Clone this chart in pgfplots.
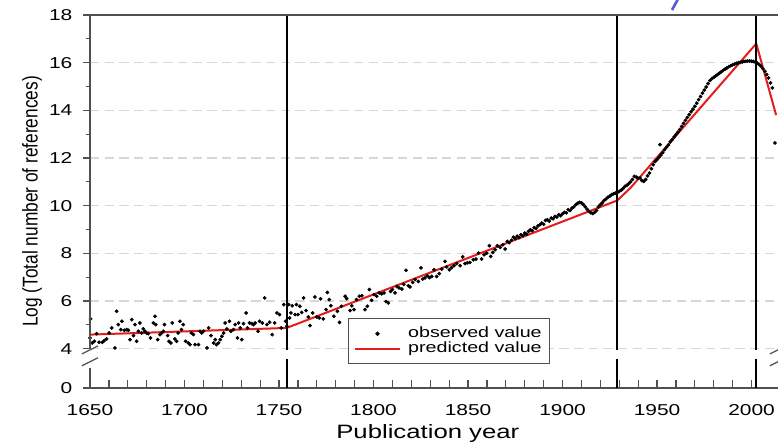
\documentclass[border=0pt]{standalone}
\usepackage{fontspec}
\setmainfont{Liberation Sans}[FakeStretch=1.33]
\newfontfamily\ylabfont{Liberation Sans}
\usepackage{pgfplots}
\pgfplotsset{compat=1.18}
\definecolor{axgray}{RGB}{80,80,80}
\definecolor{predred}{RGB}{228,28,28}
\definecolor{gridgray}{RGB}{215,215,215}
\definecolor{markblue}{RGB}{90,90,225}
\begin{document}
\begin{tikzpicture}
\begin{axis}[
  name=ax,
  scale only axis,
  width=516pt, height=279.75pt,
  xmin=1650, xmax=2014,
  ymin=2.35, ymax=18,
  axis lines*=left,
  x axis line style={draw=axgray, line width=1.3pt},
  y axis line style={draw=none},
  xtick={1650,1700,...,2000},
  minor x tick num=4,
  ytick={2.35,4,6,8,10,12,14,16,18},
  yticklabels={0,4,6,8,10,12,14,16,18},
  minor ytick={5,7,9,11,13,15,17},
  xtick align=inside,
  ytick align=outside,
  major tick length=5.25pt,
  minor tick length=3pt,
  x tick style={axgray, line width=0.9pt},
  y tick style={axgray, line width=0.9pt},
  major x tick style={/pgfplots/major tick length=6pt},
  minor x tick style={/pgfplots/minor tick length=6pt},
  ymajorgrids,
  major grid style={gridgray, line width=0.8pt, dash pattern=on 7pt off 4pt},
  /pgf/number format/assume math mode=true,
  tick label style={font=\fontsize{11.8}{13}\selectfont, text=black},
  yticklabel style={xshift=-4.5pt},
  xticklabel style={/pgf/number format/1000 sep={}, yshift=-8.6pt},
  xlabel={Publication year},
  xlabel style={at={(axis description cs:0.491,0)}, anchor=center, yshift=-34pt, font=\fontsize{14.5}{16}\selectfont},
  ylabel={\scalebox{0.81}[1]{\ylabfont\fontsize{16}{19}\selectfont Log (Total number of references)}},
  ylabel style={at={([xshift=-43.5pt]axis description cs:0,0.5)}, anchor=center},
  legend style={at={(rel axis cs:0.375,0.1877)}, anchor=north west, draw=axgray, line width=0.8pt, fill=white,
    font=\fontsize{11.1}{12}\selectfont, inner xsep=4pt, inner ysep=6pt, row sep=0.45pt, column sep=3.5pt,
    nodes={inner ysep=0.5pt, inner xsep=2pt, text height=7.5pt, text depth=2.3pt}},
  legend cell align=left,
  clip=true,
]
\addplot[only marks, mark=*, mark size=1.2pt, black,
  legend image code/.code={\path[draw=none] (0pt,0pt) -- (33.75pt,0pt); \fill[black] (17pt,0pt) circle (1.2pt);}]
 table {
x y
1650 4.45
1650.3 5.25
1651.2 4.24
1652.3 4.31
1653.5 4.63
1654.8 4.27
1656.5 4.27
1657.6 4.34
1658.8 4.41
1660.1 4.66
1661.5 4.87
1663.2 4.03
1664.1 5.57
1665.0 5.01
1666.3 4.80
1666.9 5.15
1668.2 4.77
1669.4 4.80
1670.3 4.77
1671.2 4.38
1672.1 5.22
1673.0 4.55
1673.8 5.01
1674.7 4.31
1675.6 4.73
1676.4 5.08
1677.3 4.66
1678.2 4.83
1679.1 4.73
1679.9 4.66
1680.8 4.63
1682.0 4.45
1683.5 5.08
1684.4 5.36
1684.8 5.01
1685.8 4.38
1687.0 4.59
1688.0 4.66
1688.8 4.73
1689.4 5.01
1691.1 4.55
1691.8 4.31
1692.8 4.24
1693.5 5.08
1694.9 4.41
1695.8 4.31
1696.6 4.66
1697.6 5.15
1698.4 4.80
1699.3 5.01
1700.6 4.31
1702.0 4.24
1702.9 4.17
1703.6 4.66
1704.7 4.59
1705.6 4.17
1707.4 4.17
1708.2 4.73
1709.1 4.66
1710.0 4.73
1711.9 4.03
1712.8 4.87
1714.0 4.55
1715.4 4.24
1716.3 4.38
1716.9 4.17
1718.0 4.24
1718.9 4.38
1719.8 4.52
1720.7 4.66
1721.5 5.08
1722.4 4.83
1723.8 5.15
1724.5 4.73
1725.9 4.80
1726.8 5.01
1728.0 4.45
1728.6 5.08
1729.5 4.87
1730.3 4.38
1731.2 5.05
1732.6 5.50
1733.3 4.87
1734.4 5.08
1735.6 5.05
1736.5 5.01
1737.4 5.08
1738.9 4.73
1739.7 5.15
1741.2 5.08
1742.4 6.13
1743.6 5.01
1745.0 5.11
1746.4 4.59
1747.7 5.08
1748.9 5.50
1750.3 5.43
1751.2 4.87
1752.5 5.85
1753.5 5.15
1754.2 4.94
1755.1 5.85
1755.6 5.29
1756.3 5.50
1757.0 5.80
1758.5 5.43
1759.2 5.85
1760.0 5.43
1761.0 5.78
1762.0 5.52
1763.0 6.13
1764.3 5.60
1765.5 5.33
1766.4 4.97
1767.8 5.50
1769.0 6.17
1770.0 5.33
1771.3 5.29
1772.0 6.09
1773.4 5.25
1774.9 5.64
1775.6 6.36
1776.6 6.06
1777.4 5.80
1779.0 5.36
1780.9 5.57
1782.0 5.10
1783.0 5.78
1785.0 6.20
1785.8 6.10
1787.6 5.60
1788.5 5.80
1789.7 5.64
1791.0 6.06
1792.5 6.20
1793.8 6.22
1795.5 5.64
1796.7 5.78
1797.8 6.48
1799.0 6.03
1800.3 6.27
1801.7 6.20
1803.0 6.34
1804.3 6.30
1805.6 6.34
1806.6 5.98
1807.8 5.92
1809.0 6.40
1810.0 6.48
1811.4 6.34
1812.3 6.61
1813.5 6.55
1815.0 6.50
1816.0 6.70
1817.2 7.29
1818.4 6.64
1819.3 6.59
1820.7 6.78
1822.0 6.90
1823.7 6.82
1825.1 7.39
1826.0 6.92
1827.2 6.97
1828.5 7.06
1829.6 6.98
1830.8 7.03
1832.0 7.31
1833.4 7.03
1834.8 7.15
1836.1 7.34
1837.8 7.66
1838.7 7.43
1840.1 7.31
1841.3 7.40
1842.6 7.48
1844.0 7.57
1845.8 7.48
1847.2 7.85
1848.4 7.57
1849.6 7.60
1851.0 7.62
1852.8 7.73
1854.2 7.76
1855.5 8.01
1857.2 7.76
1858.5 7.94
1859.9 8.01
1861.3 8.32
1862.0 7.87
1863.1 8.04
1864.3 8.15
1865.5 8.32
1867.0 8.25
1868.4 8.36
1869.6 8.18
1870.8 8.50
1871.8 8.45
1873 8.55
1874 8.68
1875 8.62
1876 8.72
1877 8.66
1878 8.78
1879 8.74
1880 8.85
1881 8.80
1882 8.92
1883 8.99
1884 8.95
1885 9.08
1886 9.05
1887 9.15
1888 9.20
1889 9.27
1890 9.22
1891 9.38
1892 9.41
1893 9.35
1894 9.48
1895 9.45
1896 9.55
1897 9.52
1898 9.62
1899 9.58
1900 9.66
1901 9.72
1902 9.70
1903 9.83
1904 9.80
1905 9.90
1906 9.95
1907 10.04
1908 10.10
1909 10.14
1910 10.12
1911 10.05
1912 9.95
1913 9.85
1914 9.76
1915 9.70
1916 9.67
1917 9.72
1918 9.80
1919 9.95
1920 10.04
1921 10.12
1922 10.22
1923 10.28
1924 10.35
1925 10.40
1926 10.46
1927 10.50
1928 10.53
1929 10.55
1930 10.60
1931 10.65
1932 10.72
1933 10.81
1934 10.85
1935 10.92
1936 11.00
1937 11.10
1938 11.23
1939 11.20
1940 11.15
1941 11.16
1942 11.05
1943 11.02
1944 11.10
1945 11.25
1946 11.37
1947 11.55
1948 11.72
1949 11.85
1950 11.93
1951 12.02
1951.6 12.56
1952 12.12
1953 12.22
1954 12.35
1955 12.45
1956 12.55
1957 12.68
1958 12.77
1959 12.88
1960 12.98
1961 13.08
1962 13.19
1963 13.32
1964 13.45
1965 13.58
1966 13.70
1967 13.82
1968 13.94
1969 14.05
1970 14.17
1971 14.30
1972 14.45
1973 14.58
1974 14.72
1975 14.85
1976 14.98
1977 15.12
1978 15.25
1979 15.33
1980 15.38
1981 15.44
1982 15.50
1983 15.56
1984 15.62
1985 15.68
1986 15.73
1987 15.78
1988 15.83
1989 15.87
1990 15.91
1991 15.94
1992 15.97
1993 15.99
1994 16.01
1995 16.03
1996 16.05
1997 16.06
1998 16.07
1999 16.07
2000 16.06
2001 16.05
2002 16.02
2003 15.98
2004 15.92
2005 15.85
2006 15.75
2007 15.64
2008 15.50
2009 15.36
2010 15.15
2011 14.94
2012.4 12.63
};
\addlegendentry{observed value}
\addplot[predred, line width=1.5pt, no marks,
  legend image code/.code={\draw[predred, line width=1.5pt] (0pt,0pt) -- (33.75pt,0pt);}]
 coordinates {(1650,4.59) (1754,4.87) (1929,10.22) (1936,10.75) (2002.5,16.8) (2013,13.8)};
\addlegendentry{predicted value}
% vertical reference lines with axis break
\draw[black, line width=1.4pt] (axis cs:1754,18) -- (axis cs:1754,3.95) (axis cs:1754,3.55) -- (axis cs:1754,2.35);
\draw[black, line width=1.4pt] (axis cs:1929,18) -- (axis cs:1929,3.95) (axis cs:1929,3.55) -- (axis cs:1929,2.35);
\draw[black, line width=1.4pt] (axis cs:2002.5,18) -- (axis cs:2002.5,3.95) (axis cs:2002.5,3.55) -- (axis cs:2002.5,2.35);
\end{axis}
% frame: top line and broken left axis
\draw[axgray, line width=1.3pt] (ax.north west) -- (ax.north east);
\begin{scope}[shift={(ax.south west)}]
\draw[axgray, line width=1.3pt] (0pt,279.75pt) -- (0pt,{(4-2.35)*279.75pt/15.65}) ;
\draw[axgray, line width=1.3pt] (0pt,{(3.2-2.35)*279.75pt/15.65}) -- (0pt,0pt);
\draw[axgray, line width=0.9pt] (-6pt,{(3.95-2.35)*279.75pt/15.65-3pt}) -- (6pt,{(3.95-2.35)*279.75pt/15.65+3pt});
\draw[axgray, line width=0.9pt] (-6pt,{(3.45-2.35)*279.75pt/15.65-3pt}) -- (6pt,{(3.45-2.35)*279.75pt/15.65+3pt});
\draw[axgray, line width=0.9pt] (510pt,{(3.95-2.35)*279.75pt/15.65-3pt}) -- (522pt,{(3.95-2.35)*279.75pt/15.65+3pt});
\draw[axgray, line width=0.9pt] (510pt,{(3.45-2.35)*279.75pt/15.65-3pt}) -- (522pt,{(3.45-2.35)*279.75pt/15.65+3pt});
\end{scope}
\draw[markblue, line width=2pt] ([xshift=436.5pt,yshift=3.75pt]ax.north west) -- ([xshift=441pt,yshift=12pt]ax.north west);
\pgfresetboundingbox
\path[use as bounding box] ([xshift=-67.5pt,yshift=-43.5pt]ax.south west) rectangle ([yshift=11.25pt]ax.north east);
\end{tikzpicture}
\end{document}
